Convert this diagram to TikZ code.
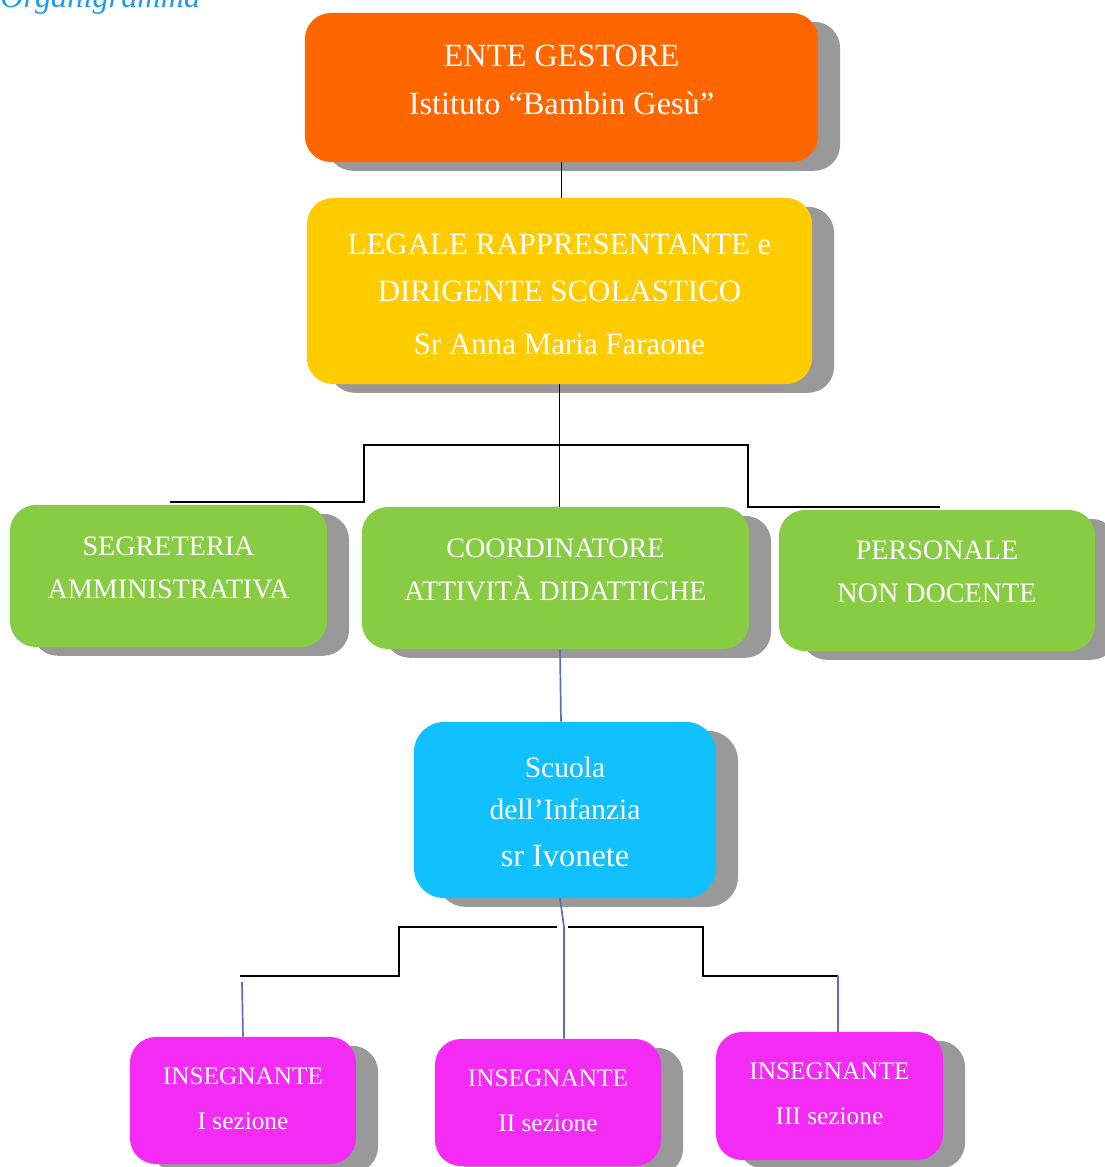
\documentclass[tikz,border=0pt]{standalone}
\usepackage{fontspec}
\setmainfont{Liberation Serif}
\usepackage[dvipsnames,svgnames]{xcolor}
\usetikzlibrary{calc}
\usetikzlibrary{shadows}
\definecolor{arancio}{RGB}{255,102,0}
\definecolor{giallo}{RGB}{255,204,0}
\definecolor{verde}{RGB}{136,204,68}
\definecolor{azzurro}{RGB}{17,193,255}
\definecolor{fucsia}{RGB}{244,42,245}
\definecolor{ombra}{RGB}{153,153,153}
\definecolor{titolo}{RGB}{30,155,240}
\definecolor{linea}{RGB}{91,111,185}

\begin{document}
\begin{tikzpicture}[x=0.025cm, y=-0.025cm,
  box/.style={rounded corners=0.65cm, align=center, text=white, inner sep=0pt, text depth=0pt,
    drop shadow={opacity=1, fill=ombra, shadow xshift=0.55cm, shadow yshift=-0.22cm}},
  nero/.style={line width=1.3pt, black},
  blu/.style={line width=1.2pt, linea}]
\useasboundingbox (0,0) rectangle (1105,1167);

\node[anchor=base west, inner sep=0pt, text=titolo, font={\fontsize{23}{23}\selectfont\itshape}] (titolo) at (0,7) {Organigramma};

% caselle
\node[box, fill=arancio, minimum width=12.825cm, minimum height=3.725cm, text height=1.325cm,
  font={\fontsize{23}{33.5}\selectfont}] (ente) at (561.5,87.5) {ENTE GESTORE\\Istituto “Bambin Gesù”};
\node[box, fill=giallo, minimum width=12.625cm, minimum height=4.65cm, text height=3.15cm,
  font={\fontsize{22}{34}\selectfont}] (legale) at (559.5,291) {LEGALE RAPPRESENTANTE e\\DIRIGENTE SCOLASTICO\\[3pt]Sr Anna Maria Faraone};

\node[box, fill=verde, minimum width=7.925cm, minimum height=3.55cm, text height=1.1cm,
  font={\fontsize{20}{30.5}\selectfont}] (segr) at (168.5,576) {SEGRETERIA\\AMMINISTRATIVA};
\node[box, fill=verde, minimum width=9.675cm, minimum height=3.55cm, text height=1.1cm,
  font={\fontsize{20}{30.5}\selectfont}] (coord) at (555.5,578) {COORDINATORE\\ATTIVITÀ DIDATTICHE};
\node[box, fill=verde, minimum width=7.9cm, minimum height=3.525cm, text height=1.075cm,
  font={\fontsize{20}{30.5}\selectfont}] (pers) at (937,580.5) {PERSONALE\\NON DOCENTE};

\node[box, fill=azzurro, rounded corners=0.75cm, minimum width=7.55cm, minimum height=4.4cm, text height=2.8cm,
  font={\fontsize{21}{30}\selectfont}] (scuola) at (565,810) {Scuola\\dell’Infanzia\\[3pt]{\fontsize{23}{30}\selectfont sr Ivonete}};

\node[box, fill=fucsia, minimum width=5.65cm, minimum height=3.175cm, text height=1.425cm,
  font={\fontsize{18}{32}\selectfont}] (ins1) at (243,1100.5) {INSEGNANTE\\I sezione};
\node[box, fill=fucsia, minimum width=5.65cm, minimum height=3.175cm, text height=1.425cm,
  font={\fontsize{18}{32}\selectfont}] (ins2) at (548,1102.5) {INSEGNANTE\\II sezione};
\node[box, fill=fucsia, minimum width=5.675cm, minimum height=3.2cm, text height=1.4cm,
  font={\fontsize{18}{32}\selectfont}] (ins3) at (829.5,1096) {INSEGNANTE\\III sezione};

% linee
\path
  (364,445) coordinate (b1)
  (748,445) coordinate (b2)
  (170,502) coordinate (b3)
  (940,507) coordinate (b4)
  (399,927) coordinate (c1)
  (557,927) coordinate (c2)
  (568,927) coordinate (c3)
  (703,927) coordinate (c4)
  (240,976) coordinate (c5)
  (838,976) coordinate (c6)
  (564,927) coordinate (c7)
  (242,982) coordinate (c8)
  ;

\draw[nero] (ente.south) -- (ente.south |- legale.north);
\draw[nero] (legale.south) -- (legale.south |- coord.north);
\draw[nero] (b3) -| (b1) -- (b2) |- (b4);

\draw[blu] ($(coord.south)+(4.5,0)$) -- ($(scuola.north)+(-4,0)$);

\draw[nero] (c5) -| (c1) -- (c2);
\draw[nero] (c3) -- (c4) |- (c6);
\draw[blu] ($(scuola.south)+(-5,0)$) -- (c7) -- (c7 |- ins2.north);
\draw[blu] (c8) -- (ins1.north);
\draw[blu] (c6) -- (c6 |- ins3.north);
\end{tikzpicture}
\end{document}
